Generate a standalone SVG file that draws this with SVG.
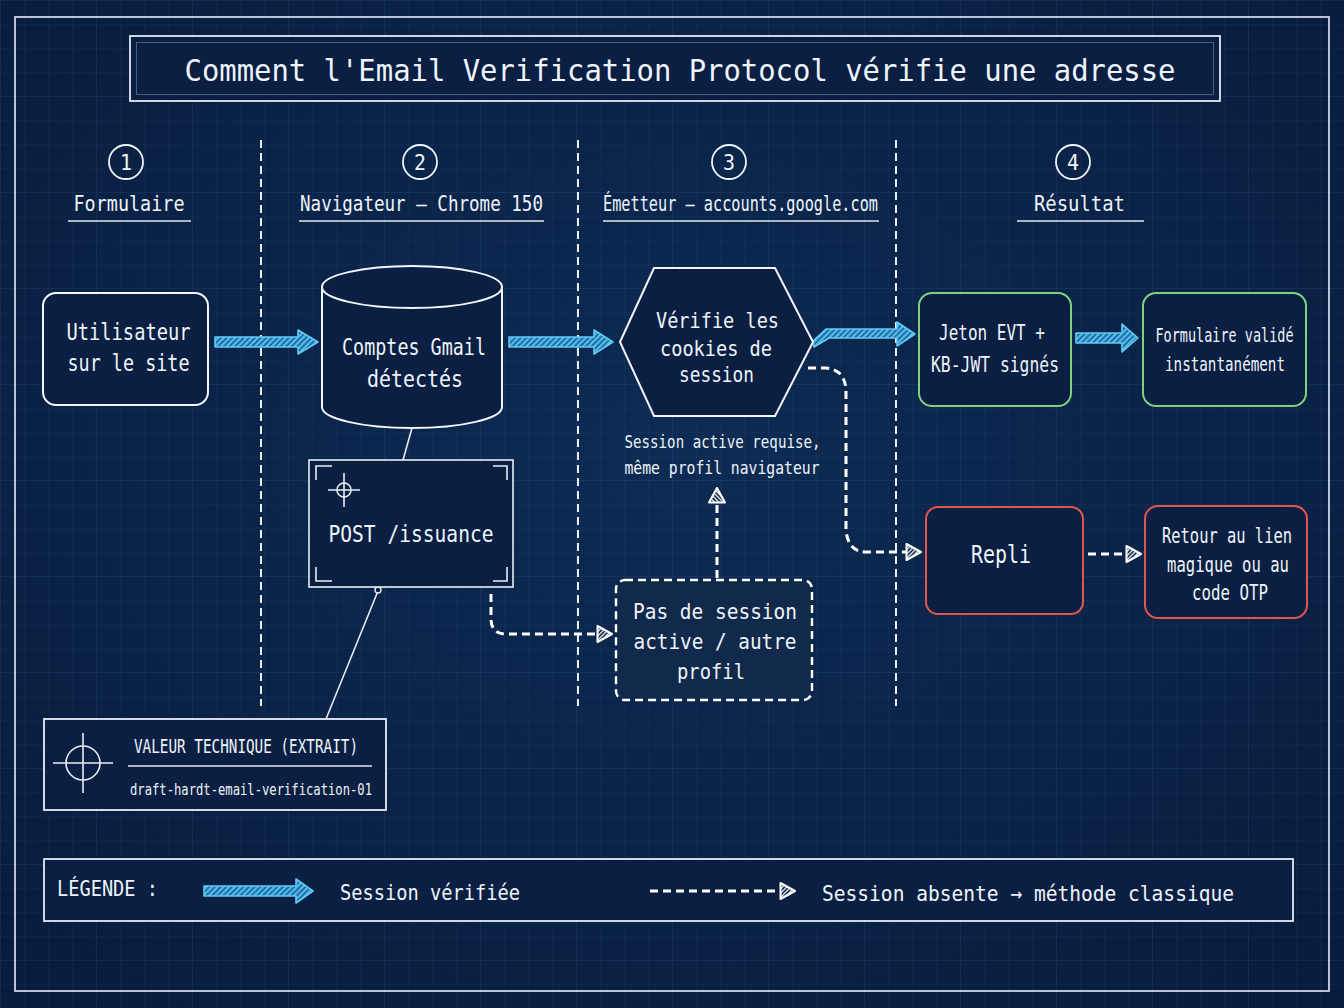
<svg xmlns="http://www.w3.org/2000/svg" width="1344" height="1008" viewBox="0 0 1344 1008">
<defs>
<radialGradient id="bg" cx="50%" cy="45%" r="75%">
<stop offset="0" stop-color="#0d2b54"/>
<stop offset="1" stop-color="#081c3c"/>
</radialGradient>
<pattern id="grid" width="24" height="24" patternUnits="userSpaceOnUse">
<path d="M24 0 L0 0 0 24" fill="none" stroke="#6e9fd6" stroke-opacity="0.09" stroke-width="1"/>
</pattern>
<pattern id="grid2" width="96" height="96" patternUnits="userSpaceOnUse">
<path d="M96 0 L0 0 0 96" fill="none" stroke="#7fb0e6" stroke-opacity="0.07" stroke-width="1.5"/>
</pattern>
<pattern id="bhatch" width="4" height="4" patternUnits="userSpaceOnUse" patternTransform="rotate(45)">
<rect width="4" height="4" fill="#1b5c8c"/>
<rect width="2.4" height="4" fill="#4fbdf0"/>
</pattern>
<pattern id="whatch" width="3" height="3" patternUnits="userSpaceOnUse" patternTransform="rotate(45)">
<rect width="3" height="3" fill="#0b2347"/>
<rect width="1.3" height="3" fill="#ffffff"/>
</pattern>
<marker id="dh" markerWidth="18" markerHeight="20" refX="1" refY="10" orient="auto" markerUnits="userSpaceOnUse" viewBox="0 0 18 20">
<path d="M1.5,2 L16,10 L1.5,18 Z" fill="url(#whatch)" stroke="#ffffff" stroke-width="2" stroke-linejoin="round"/>
</marker>
<style>
text{font-family:"DejaVu Sans Mono","Liberation Mono",monospace;fill:#eef4fb;}
.c{text-anchor:middle;}
.node{fill:#0a1f41;stroke:#f2f6fb;stroke-width:2;}
.green{fill:#0a1f41;stroke:#7fd17e;stroke-width:2;}
.red{fill:#0a1f41;stroke:#e2574c;stroke-width:2;}
.thin{fill:none;stroke:#e8eef6;stroke-width:1.6;}
.div{stroke:#e8eef6;stroke-width:2;stroke-dasharray:8 5;fill:none;}
.dash{fill:none;stroke:#ffffff;stroke-width:3;stroke-dasharray:8 5;marker-end:url(#dh);}
.barrow{fill:url(#bhatch);stroke:#62c9f4;stroke-width:1.6;stroke-linejoin:round;}
.ul{stroke:#dfe8f2;stroke-width:1.6;}
</style>
</defs>

<rect width="1344" height="1008" fill="url(#bg)"/>
<rect width="1344" height="1008" fill="url(#grid)"/>
<rect width="1344" height="1008" fill="url(#grid2)"/>
<rect x="15" y="17" width="1314" height="974" fill="none" stroke="#c9d7e8" stroke-width="1.8"/>

<g id="title">
<rect x="130" y="36" width="1090" height="65" fill="#0a1f41" stroke="#e3ebf4" stroke-width="1.8"/>
<rect x="136.5" y="42.5" width="1077" height="52" fill="none" stroke="#7f9fc4" stroke-opacity="0.5" stroke-width="1"/>
<text class="c" x="680" y="81" font-size="31" textLength="991" lengthAdjust="spacingAndGlyphs">Comment l'Email Verification Protocol vérifie une adresse</text>
</g>

<g id="dividers">
<line class="div" x1="261" y1="140" x2="261" y2="706"/>
<line class="div" x1="578" y1="140" x2="578" y2="706"/>
<line class="div" x1="896" y1="140" x2="896" y2="706"/>
</g>

<g id="headers">
<circle cx="126" cy="162" r="17" fill="none" stroke="#eef4fb" stroke-width="1.8"/>
<text class="c" x="126" y="170" font-size="21" textLength="12" lengthAdjust="spacingAndGlyphs">1</text>
<text class="c" x="129" y="211" font-size="21" textLength="111" lengthAdjust="spacingAndGlyphs">Formulaire</text>
<line class="ul" x1="68" y1="221" x2="191" y2="221"/>

<circle cx="420" cy="162" r="17" fill="none" stroke="#eef4fb" stroke-width="1.8"/>
<text class="c" x="420" y="170" font-size="21" textLength="12" lengthAdjust="spacingAndGlyphs">2</text>
<text class="c" x="421.5" y="211" font-size="21" textLength="243" lengthAdjust="spacingAndGlyphs">Navigateur — Chrome 150</text>
<line class="ul" x1="299" y1="221" x2="544" y2="221"/>

<circle cx="729" cy="162" r="17" fill="none" stroke="#eef4fb" stroke-width="1.8"/>
<text class="c" x="729" y="170" font-size="21" textLength="12" lengthAdjust="spacingAndGlyphs">3</text>
<text class="c" x="740.5" y="211" font-size="21" textLength="275" lengthAdjust="spacingAndGlyphs">Émetteur — accounts.google.com</text>
<line class="ul" x1="603" y1="221" x2="879" y2="221"/>

<circle cx="1073" cy="162" r="17" fill="none" stroke="#eef4fb" stroke-width="1.8"/>
<text class="c" x="1073" y="170" font-size="21" textLength="12" lengthAdjust="spacingAndGlyphs">4</text>
<text class="c" x="1079.5" y="211" font-size="21" textLength="91" lengthAdjust="spacingAndGlyphs">Résultat</text>
<line class="ul" x1="1017" y1="221" x2="1144" y2="221"/>
</g>

<g id="connectors">
<polygon class="barrow" points="215,337 298,337 298,330 318,342 298,354 298,347 215,347"/>
<polygon class="barrow" points="509,337 594,337 594,330 613,342 594,354 594,347 509,347"/>
<polygon class="barrow" points="814,347 829,338 897,338 897,346 915,334 897,322 897,329 826,329 813,341"/>
<polygon class="barrow" points="1076,333 1122,333 1122,324 1138,338 1122,352 1122,343 1076,343"/>
<line x1="412" y1="428" x2="403" y2="460" stroke="#e8eef6" stroke-width="1.6"/>
<line x1="378" y1="591" x2="326" y2="719" stroke="#e8eef6" stroke-width="1.6"/>
<circle cx="378" cy="590" r="3" fill="#0a1f41" stroke="#e8eef6" stroke-width="1.4"/>
<path class="dash" d="M808,368 L826,368 Q846,370 846,392 L846,530 Q848,552 866,552 L906,552"/>
<path class="dash" d="M491,594 L491,620 Q492,634 506,634 L597,634"/>
<path class="dash" d="M717,578 L717,503"/>
<path class="dash" d="M1088,554 L1126,554"/>
</g>

<g id="n-utilisateur">
<rect class="node" x="43" y="293" width="165" height="112" rx="13"/>
<text class="c" x="128.5" y="340" font-size="23" textLength="124" lengthAdjust="spacingAndGlyphs">Utilisateur</text>
<text class="c" x="128.5" y="371" font-size="23" textLength="122" lengthAdjust="spacingAndGlyphs">sur le site</text>
</g>

<g id="n-comptes">
<path class="node" d="M322,287 L322,407 A90,21 0 0 0 502,407 L502,287 A90,21 0 0 0 322,287 Z"/>
<path d="M322,287 A90,21 0 0 0 502,287" fill="none" stroke="#f2f6fb" stroke-width="2"/>
<text class="c" x="414" y="355" font-size="23" textLength="144" lengthAdjust="spacingAndGlyphs">Comptes Gmail</text>
<text class="c" x="415" y="387" font-size="23" textLength="96" lengthAdjust="spacingAndGlyphs">détectés</text>
</g>

<g id="n-post">
<rect x="309" y="460" width="204" height="127" fill="#0a1f41" stroke="#e8eef6" stroke-width="1.6"/>
<path class="thin" d="M316,480 L316,466 L332,466 M493,466 L507,466 L507,480 M316,567 L316,581 L332,581 M493,581 L507,581 L507,567" stroke-width="2"/>
<circle cx="344" cy="490" r="7" class="thin"/>
<path class="thin" d="M328,490 L360,490 M344,473 L344,507" stroke-width="1.2"/>
<text class="c" x="411" y="542" font-size="23" textLength="165" lengthAdjust="spacingAndGlyphs">POST /issuance</text>
</g>

<g id="n-verifie">
<polygon class="node" points="620,342 654,268 775,268 813,342 775,416 654,416"/>
<text class="c" x="717.5" y="328" font-size="22" textLength="123" lengthAdjust="spacingAndGlyphs">Vérifie les</text>
<text class="c" x="716" y="356" font-size="22" textLength="112" lengthAdjust="spacingAndGlyphs">cookies de</text>
<text class="c" x="716.5" y="382" font-size="22" textLength="75" lengthAdjust="spacingAndGlyphs">session</text>
</g>

<g id="label-session">
<text class="c" x="722.5" y="448" font-size="17" textLength="196" lengthAdjust="spacingAndGlyphs">Session active requise,</text>
<text class="c" x="722" y="474" font-size="17" textLength="195" lengthAdjust="spacingAndGlyphs">même profil navigateur</text>
</g>

<g id="n-pas">
<rect x="616" y="580" width="196" height="120" rx="9" fill="#11294a" stroke="#ffffff" stroke-width="2.4" stroke-dasharray="8 5"/>
<text class="c" x="715" y="619" font-size="22" textLength="164" lengthAdjust="spacingAndGlyphs">Pas de session</text>
<text class="c" x="715" y="649" font-size="22" textLength="163" lengthAdjust="spacingAndGlyphs">active / autre</text>
<text class="c" x="711" y="679" font-size="22" textLength="68" lengthAdjust="spacingAndGlyphs">profil</text>
</g>

<g id="n-jeton">
<rect class="green" x="919" y="293" width="152" height="113" rx="13"/>
<text class="c" x="992" y="340" font-size="22" textLength="106" lengthAdjust="spacingAndGlyphs">Jeton EVT +</text>
<text class="c" x="995" y="372" font-size="22" textLength="128" lengthAdjust="spacingAndGlyphs">KB-JWT signés</text>
</g>

<g id="n-valide">
<rect class="green" x="1143" y="293" width="163" height="113" rx="13"/>
<text class="c" transform="translate(1224.5 342) scale(0.71 1)" font-size="19">Formulaire validé</text>
<text class="c" x="1225" y="371" font-size="20" textLength="120" lengthAdjust="spacingAndGlyphs">instantanément</text>
</g>

<g id="n-repli">
<rect class="red" x="926" y="507" width="157" height="107" rx="12"/>
<text class="c" x="1001" y="563" font-size="25" textLength="60" lengthAdjust="spacingAndGlyphs">Repli</text>
</g>

<g id="n-retour">
<rect class="red" x="1145" y="506" width="162" height="112" rx="13"/>
<text class="c" x="1227" y="543" font-size="21" textLength="130" lengthAdjust="spacingAndGlyphs">Retour au lien</text>
<text class="c" x="1228" y="572" font-size="21" textLength="122" lengthAdjust="spacingAndGlyphs">magique ou au</text>
<text class="c" x="1230" y="600" font-size="21" textLength="76" lengthAdjust="spacingAndGlyphs">code OTP</text>
</g>

<g id="n-valeur">
<rect x="44" y="719" width="342" height="91" fill="#0a1f41" stroke="#e8eef6" stroke-width="1.8"/>
<circle cx="83" cy="763" r="17" class="thin"/>
<path class="thin" d="M53,763 L113,763 M83,733 L83,793"/>
<text class="c" x="246" y="753" font-size="19" textLength="224" lengthAdjust="spacingAndGlyphs">VALEUR TECHNIQUE (EXTRAIT)</text>
<line class="ul" x1="128" y1="766" x2="372" y2="766"/>
<text class="c" x="251" y="795" font-size="16" textLength="242" lengthAdjust="spacingAndGlyphs">draft-hardt-email-verification-01</text>
</g>

<g id="legend">
<rect x="44" y="859" width="1249" height="62" fill="#0a1f41" stroke="#e3ebf4" stroke-width="1.8"/>
<text x="57" y="896" font-size="21" textLength="101" lengthAdjust="spacingAndGlyphs">LÉGENDE :</text>
<polygon class="barrow" points="204,886 296,886 296,879 313,891 296,903 296,896 204,896"/>
<text x="340" y="900" font-size="22" textLength="180" lengthAdjust="spacingAndGlyphs">Session vérifiée</text>
<path class="dash" d="M650,891 L780,891"/>
<text x="822" y="901" font-size="22" textLength="412" lengthAdjust="spacingAndGlyphs">Session absente → méthode classique</text>
</g>
</svg>
